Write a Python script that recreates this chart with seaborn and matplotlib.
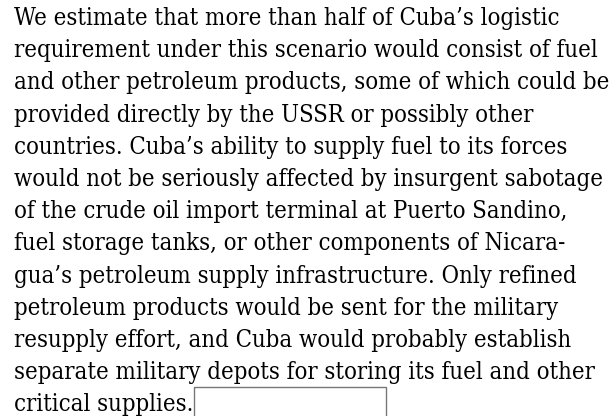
import matplotlib
matplotlib.use("Agg")
import matplotlib.pyplot as plt
import seaborn as sb
from matplotlib.patches import Rectangle

# text lines of the paragraph
lines = [
    "We estimate that more than half of Cuba\u2019s logistic",
    "requirement under this scenario would consist of fuel",
    "and other petroleum products, some of which could be",
    "provided directly by the USSR or possibly other",
    "countries. Cuba\u2019s ability to supply fuel to its forces",
    "would not be seriously affected by insurgent sabotage",
    "of the crude oil import terminal at Puerto Sandino,",
    "fuel storage tanks, or other components of Nicara-",
    "gua\u2019s petroleum supply infrastructure. Only refined",
    "petroleum products would be sent for the military",
    "resupply effort, and Cuba would probably establish",
    "separate military depots for storing its fuel and other",
    "critical supplies.",
]

sb.set_style("white")
plt.rcParams['font.family'] = ['DejaVu Serif']

W, H = 614, 416
fig = plt.figure(figsize=(W / 100, H / 100), dpi=100)
ax = fig.add_axes([0, 0, 1, 1])
ax.set_xlim(0, W)
ax.set_ylim(H, 0)
ax.axis('off')

# fit font size so the widest line ends near x=608 px
r = fig.canvas.get_renderer()
wmax = 0
for s in lines:
    t = ax.text(0, 0, s, fontsize=10, fontstretch='condensed')
    wmax = max(wmax, t.get_window_extent(r).width)
    t.remove()
fs = 10 * 592 / wmax

#baselines in pixels
y0 = 25
step = 32.2
for i, s in enumerate(lines):
    ax.text(14, y0 + i * step, s, fontsize=fs, fontstretch='condensed',
            va='baseline', ha='left', color='black')

# empty box after the last line
ax.add_patch(Rectangle((194, 387), 192, 32, fill=False, edgecolor='#777777', lw=1))

fig.savefig('out.png', dpi=100, facecolor='white')
